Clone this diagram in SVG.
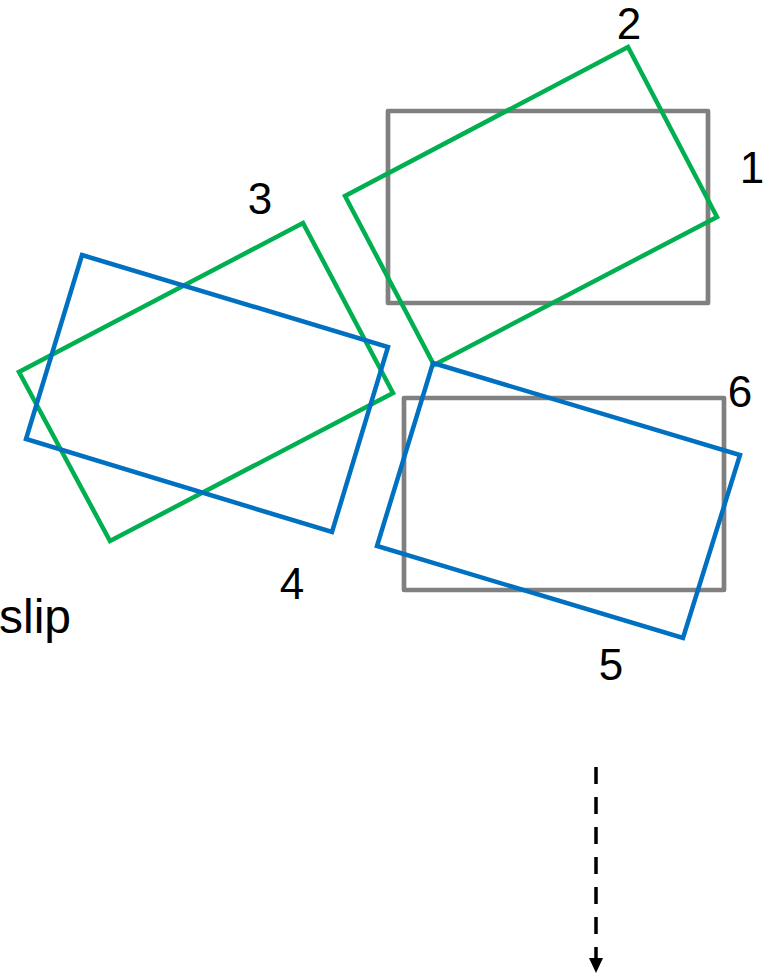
<svg xmlns="http://www.w3.org/2000/svg" width="764" height="976" viewBox="0 0 764 976">
<style>
.gray{fill:none;stroke:#808080;stroke-width:4.7;stroke-linejoin:round}
.green{fill:none;stroke:#00B050;stroke-width:4.5;stroke-linejoin:miter}
.blue{fill:none;stroke:#0070C0;stroke-width:4.5;stroke-linejoin:miter}
.lbl{font-family:"Liberation Sans",Arial,sans-serif;font-size:44px;fill:#000;text-anchor:middle}
.txt{font-family:"Liberation Sans",Arial,sans-serif;font-size:48px;fill:#000}
.conn{stroke:#000;stroke-width:3.5;stroke-dasharray:17 13;fill:none}
</style>
<defs>
<marker id="arrow" viewBox="0 0 15 14" refX="0" refY="7" markerWidth="15" markerHeight="14" markerUnits="userSpaceOnUse" orient="auto">
<path d="M0,0 L15,7 L0,14 Z" fill="#000"/>
</marker>
</defs>
<rect width="764" height="976" fill="#fff"/>
<g id="node-gray-top">
<rect class="gray" x="388" y="111" width="320" height="192"/>
</g>
<g id="node-green-top">
<polygon class="green" points="628,47 717,217 434,365 345,196"/>
</g>
<g id="node-green-left">
<polygon class="green" points="303,223 393,393 110,541 19,372"/>
</g>
<g id="node-blue-left">
<polygon class="blue" points="82,255 388,347 332,532 26,439"/>
</g>
<g id="node-gray-bottom">
<rect class="gray" x="404" y="398" width="320" height="192"/>
</g>
<g id="node-blue-bottom">
<polygon class="blue" points="433,363 740,455 683,638 377,546"/>
</g>
<g id="labels">
<text class="lbl" x="629" y="39">2</text>
<text class="lbl" x="752" y="183">1</text>
<text class="lbl" x="260" y="214">3</text>
<text class="lbl" x="292" y="599">4</text>
<text class="lbl" x="611" y="680">5</text>
<text class="lbl" x="740" y="407">6</text>
<text class="txt" x="-1" y="633">slip</text>
</g>
<g id="connectors">
<path class="conn" d="M596,767 L596,958" marker-end="url(#arrow)"/>
</g>
</svg>
